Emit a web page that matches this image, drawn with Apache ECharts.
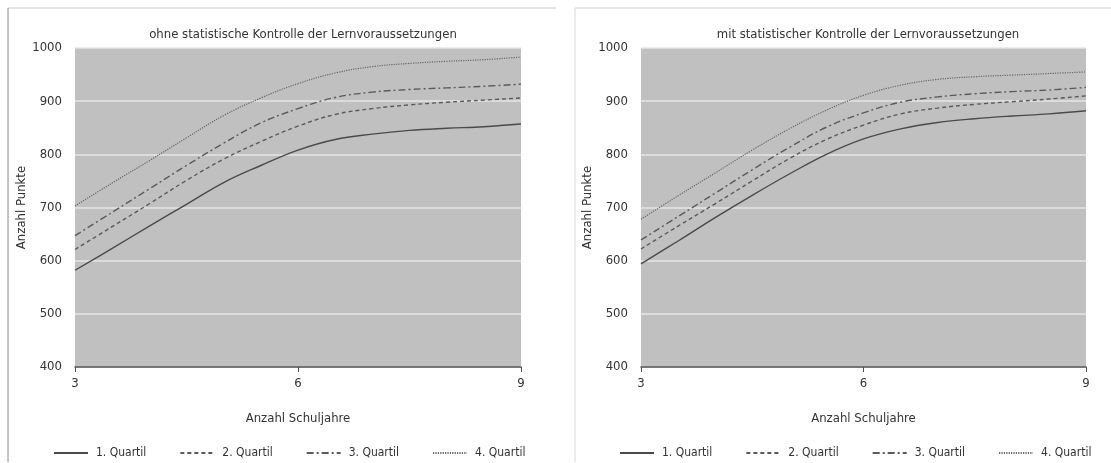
<!DOCTYPE html>
<html>
<head>
<meta charset="utf-8">
<script src="https://cdn.jsdelivr.net/npm/echarts@6/dist/echarts.min.js"></script>
<style>
html,body{margin:0;padding:0;background:#fff;}
#c{width:1111px;height:463px;}
</style>
</head>
<body>
<div id="c"></div>
<script>
// Data
const years = [3, 3.5, 4, 4.5, 5, 5.5, 6, 6.5, 7, 7.5, 8, 8.5, 9];
const seriesNames = ['1. Quartil', '2. Quartil', '3. Quartil', '4. Quartil'];
const panelTitles = ['ohne statistische Kontrolle der Lernvoraussetzungen', 'mit statistischer Kontrolle der Lernvoraussetzungen'];
const xTitle = 'Anzahl Schuljahre';
const yTitle = 'Anzahl Punkte';

// left panel: ohne Kontrolle
const ohneQ1 = [582, 623, 665, 706, 747, 779, 808, 828, 838, 845, 849, 852, 857];
const ohneQ2 = [621, 664, 707, 751, 791, 824, 853, 875, 886, 893, 898, 902, 906];
const ohneQ3 = [647, 691, 735, 779, 821, 859, 886, 907, 917, 922, 925, 928, 932];
const ohneQ4 = [703, 746, 788, 831, 873, 906, 933, 953, 965, 971, 975, 978, 983];
// right panel: mit Kontrolle
const mitQ1 = [594, 637, 681, 723, 763, 800, 829, 848, 860, 867, 872, 876, 882];
const mitQ2 = [622, 665, 707, 750, 792, 828, 855, 876, 887, 894, 899, 904, 910];
const mitQ3 = [639, 683, 727, 771, 813, 851, 878, 898, 908, 914, 918, 921, 926];
const mitQ4 = [678, 722, 765, 808, 848, 883, 911, 930, 941, 946, 949, 952, 955];

const FONT = "'Liberation Sans Narrow','DejaVu Sans Condensed','Roboto Condensed',sans-serif";
const styles = [
  {color: '#4a4a4a', width: 1.4, type: 'solid'},
  {color: '#5a5a5a', width: 1.4, type: [4, 3]},
  {color: '#5a5a5a', width: 1.4, type: [7, 3, 2, 3]},
  {color: '#666666', width: 1.2, type: [1.2, 1.2]}
];

function pairs(vals){ return years.map((y,i)=>[y, vals[i]]); }

const panels = [
  {data: [ohneQ1, ohneQ2, ohneQ3, ohneQ4]},
  {data: [mitQ1, mitQ2, mitQ3, mitQ4]}
];

const grids = [
  {left: 75, right: 590, top: 48, bottom: 96},
  {left: 641, right: 25, top: 48, bottom: 96}
];

const series = [];
panels.forEach((p, gi) => {
  p.data.forEach((vals, si) => {
    series.push({
      name: seriesNames[si],
      type: 'line',
      xAxisIndex: gi, yAxisIndex: gi,
      data: pairs(vals),
      smooth: 0.4,
      symbol: 'none',
      lineStyle: {color: styles[si].color, width: styles[si].width, type: styles[si].type},
      itemStyle: {color: styles[si].color},
      emphasis: {disabled: true},
      silent: true
    });
  });
});

const legendBase = {
  top: 442, itemWidth: 34, itemHeight: 10, itemGap: 33,
  data: seriesNames, selectedMode: false,
  itemStyle: {opacity: 0},
  textStyle: {fontSize: 12, color: '#333', fontFamily: FONT, padding: [0, 0, 0, 3]}
};

const chart = echarts.init(document.getElementById('c'), null, {renderer: 'canvas'});
chart.setOption({
  animation: false,
  backgroundColor: '#fff',
  textStyle: {fontFamily: FONT},
  title: [
    {text: panelTitles[0], left: 298, top: 23, textAlign: 'center',
     textStyle: {fontSize: 13, fontWeight: 'normal', color: '#333', fontFamily: FONT}},
    {text: panelTitles[1], left: 863, top: 23, textAlign: 'center',
     textStyle: {fontSize: 13, fontWeight: 'normal', color: '#333', fontFamily: FONT}}
  ],
  grid: grids.map(g => Object.assign({show: true, backgroundColor: '#c0c0c0', borderWidth: 0, containLabel: false}, g)),
  xAxis: grids.map((g, i) => ({
    type: 'value', gridIndex: i, min: 3, max: 9, interval: 3,
    name: xTitle, nameLocation: 'middle', nameGap: 45,
    nameTextStyle: {fontSize: 13, color: '#333', fontFamily: FONT},
    axisLine: {show: true, lineStyle: {color: '#505050', width: 1.5}},
    axisTick: {show: true, length: 5, lineStyle: {color: '#505050'}},
    axisLabel: {fontSize: 13, color: '#333', margin: 10, fontFamily: FONT},
    splitLine: {show: false}
  })),
  yAxis: grids.map((g, i) => ({
    type: 'value', gridIndex: i, min: 400, max: 1000, interval: 100,
    name: yTitle, nameLocation: 'middle', nameGap: 31, nameRotate: 90,
    nameTextStyle: {fontSize: 13, color: '#333', fontFamily: FONT},
    axisLine: {show: false}, axisTick: {show: false},
    axisLabel: {fontSize: 13, color: '#333', margin: 13, fontFamily: FONT, formatter: v => String(v)},
    splitLine: {show: true, lineStyle: {color: '#e6e6e6', width: 1.5}}
  })),
  legend: [
    Object.assign({left: 48}, legendBase),
    Object.assign({left: 614}, legendBase)
  ],
  graphic: [
    {type: 'line', shape: {x1: 8, y1: 8, x2: 556, y2: 8}, style: {stroke: '#c8c8c8', lineWidth: 1}, silent: true},
    {type: 'line', shape: {x1: 8, y1: 8, x2: 8, y2: 462}, style: {stroke: '#888', lineWidth: 1}, silent: true},
    {type: 'line', shape: {x1: 575, y1: 8, x2: 1111, y2: 8}, style: {stroke: '#d0d0d0', lineWidth: 1}, silent: true},
    {type: 'line', shape: {x1: 575, y1: 8, x2: 575, y2: 462}, style: {stroke: '#d8d8d8', lineWidth: 1}, silent: true}
  ],
  series: series
});
</script>
</body>
</html>
